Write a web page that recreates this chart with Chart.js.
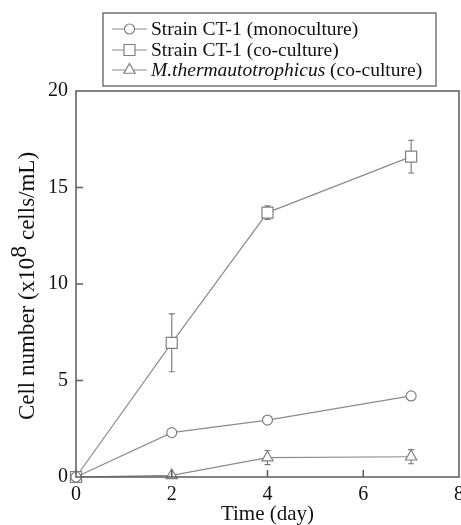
<!DOCTYPE html>
<html>
<head>
<meta charset="utf-8">
<script src="https://cdn.jsdelivr.net/npm/chart.js@4/dist/chart.umd.min.js"></script>
<style>
  html, body { margin: 0; padding: 0; background: #fff; overflow: hidden; }
  #wrap { width: 472px; height: 525px; position: relative; }
</style>
</head>
<body>
<div id="wrap"><canvas id="chart"></canvas></div>
<script>
// data
const days = [0, 2, 4, 7];
const xTicks = [0, 2, 4, 6, 8];
const yTicks = [0, 5, 10, 15, 20];

const monoculture = [0, 2.3, 2.95, 4.2];
const monoLow = [0, 2.3, 2.95, 4.2];
const monoHigh = [0, 2.3, 2.95, 4.2];

const coculture = [0, 6.95, 13.7, 16.6];
const coLow = [0, 5.45, 13.35, 15.75];
const coHigh = [0, 8.45, 14.05, 17.45];

const methano = [0, 0.08, 1.0, 1.05];
const methLow = [0, 0.08, 0.64, 0.69];
const methHigh = [0, 0.08, 1.37, 1.42];

const seriesNames = ['Strain CT-1 (monoculture)', 'Strain CT-1 (co-culture)', 'M.thermautotrophicus (co-culture)'];

const lineGray = '#8c8c8c';
const axisGray = '#5a5a5a';
const serif = '"Liberation Serif", "Times New Roman", serif';

const pts = (ys) => days.map((d, i) => ({ x: d, y: ys[i] }));

function ds(label, ys, style, radius, low, high) {
  return {
    label,
    data: pts(ys),
    low, high,
    borderColor: lineGray,
    borderWidth: 1.2,
    pointStyle: style,
    pointRadius: radius,
    pointBorderColor: '#808080',
    pointBackgroundColor: '#fff',
    pointBorderWidth: 1.2,
    clip: false,
    tension: 0,
  };
}

// error bars, drawn under the markers
const errorBars = {
  id: 'errorBars',
  beforeDatasetsDraw(chart) {
    const { ctx, scales: { x, y } } = chart;
    ctx.save();
    ctx.strokeStyle = '#777';
    ctx.lineWidth = 1.1;
    chart.data.datasets.forEach(d => {
      d.data.forEach((p, i) => {
        if (d.high[i] === d.low[i]) return;
        const px = x.getPixelForValue(p.x);
        const top = y.getPixelForValue(d.high[i]);
        const bot = y.getPixelForValue(d.low[i]);
        ctx.beginPath();
        ctx.moveTo(px, top); ctx.lineTo(px, bot);
        ctx.moveTo(px - 3, top); ctx.lineTo(px + 3, top);
        ctx.moveTo(px - 3, bot); ctx.lineTo(px + 3, bot);
        ctx.stroke();
      });
    });
    ctx.restore();
  }
};

// frame with inward ticks, legend box, y title with superscript
const decorations = {
  id: 'decorations',
  afterDraw(chart) {
    const { ctx, chartArea: a, scales: { x, y } } = chart;
    ctx.save();
    ctx.strokeStyle = axisGray;
    ctx.lineWidth = 1.5;
    ctx.strokeRect(a.left, a.top, a.right - a.left, a.bottom - a.top);
    ctx.beginPath();
    xTicks.slice(1, -1).forEach(v => {
      const px = x.getPixelForValue(v);
      ctx.moveTo(px, a.bottom); ctx.lineTo(px, a.bottom - 7);
    });
    yTicks.slice(1, -1).forEach(v => {
      const py = y.getPixelForValue(v);
      ctx.moveTo(a.left, py); ctx.lineTo(a.left + 7, py);
    });
    ctx.stroke();

    // legend
    const lx = 103, ly = 13, lw = 333, lh = 73;
    ctx.lineWidth = 1.4;
    ctx.strokeStyle = '#6a6a6a';
    ctx.strokeRect(lx, ly, lw, lh);
    const rows = [29, 50, 70];
    const lf = '19.5px ' + serif;
    chart.data.datasets.forEach((d, i) => {
      const ry = rows[i];
      ctx.strokeStyle = lineGray;
      ctx.lineWidth = 1.2;
      ctx.beginPath();
      ctx.moveTo(112, ry); ctx.lineTo(147, ry);
      ctx.stroke();
      ctx.fillStyle = '#fff';
      ctx.strokeStyle = '#808080';
      Chart.helpers.drawPoint(ctx, { pointStyle: d.pointStyle, radius: d.pointRadius, borderWidth: 1.2 }, 129.5, ry);
      ctx.fillStyle = '#111';
      ctx.textBaseline = 'middle';
      ctx.textAlign = 'left';
      if (i === 2) {
        ctx.font = 'italic ' + lf;
        const it = 'M.thermautotrophicus';
        ctx.fillText(it, 151, ry + 1);
        const w = ctx.measureText(it).width;
        ctx.font = lf;
        ctx.fillText(' (co-culture)', 151 + w, ry + 1);
      } else {
        ctx.font = lf;
        ctx.fillText(d.label, 151, ry + 1);
      }
    });

    // y axis title
    ctx.translate(28, (a.top + a.bottom) / 2 + 2);
    ctx.rotate(-Math.PI / 2);
    ctx.fillStyle = '#111';
    ctx.textBaseline = 'middle';
    ctx.textAlign = 'left';
    const f = '23px ' + serif, fs = '24px ' + serif;
    const p1 = 'Cell number (x10', p2 = '8', p3 = ' cells/mL)';
    ctx.font = f;
    const w1 = ctx.measureText(p1).width;
    const w3 = ctx.measureText(p3).width;
    ctx.font = fs;
    const w2 = ctx.measureText(p2).width;
    const sx = -(w1 + w2 + w3) / 2;
    ctx.font = f;
    ctx.fillText(p1, sx, 0);
    ctx.font = fs;
    ctx.fillText(p2, sx + w1, -8);
    ctx.font = f;
    ctx.fillText(p3, sx + w1 + w2, 0);
    ctx.restore();
  }
};

new Chart(document.getElementById('chart'), {
  type: 'line',
  data: {
    datasets: [
      ds(seriesNames[0], monoculture, 'circle', 5, monoLow, monoHigh),
      ds(seriesNames[1], coculture, 'rect', 7.8, coLow, coHigh),
      ds(seriesNames[2], methano, 'triangle', 6.5, methLow, methHigh),
    ]
  },
  options: {
    responsive: true,
    maintainAspectRatio: false,
    animation: false,
    layout: { padding: { left: 40, top: 91, right: 0, bottom: 0 } },
    plugins: { legend: { display: false }, tooltip: { enabled: false } },
    scales: {
      x: {
        type: 'linear', min: 0, max: 8,
        afterBuildTicks: s => { s.ticks = xTicks.map(v => ({ value: v })); },
        grid: { display: false, drawTicks: false },
        border: { display: false },
        ticks: { color: '#111', font: { family: serif, size: 20, lineHeight: 1 }, padding: 8, maxRotation: 0 },
        title: { display: true, text: 'Time (day)', color: '#111', font: { family: serif, size: 21, lineHeight: 1 }, padding: { top: -9, bottom: 0 } }
      },
      y: {
        type: 'linear', min: 0, max: 20,
        afterBuildTicks: s => { s.ticks = yTicks.map(v => ({ value: v })); },
        grid: { display: false, drawTicks: false },
        border: { display: false },
        ticks: { color: '#111', font: { family: serif, size: 20 }, padding: 8 }
      }
    }
  },
  plugins: [errorBars, decorations]
});
</script>
</body>
</html>
